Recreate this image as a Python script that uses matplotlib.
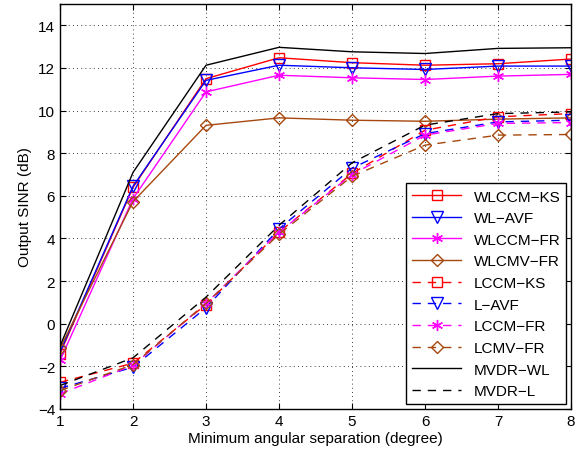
import matplotlib
matplotlib.use('Agg')
import matplotlib.pyplot as plt

plt.rcParams['font.family'] = ['Liberation Sans', 'DejaVu Sans']
plt.rcParams['font.size'] = 11

# minimum angular separation (degree)
sep = [1, 2, 3, 4, 5, 6, 7, 8]

# widely-linear methods (solid)
wlccm_ks = [-1.40, 6.40, 11.50, 12.48, 12.25, 12.13, 12.20, 12.42]
wl_avf = [-1.33, 6.45, 11.42, 12.13, 12.01, 11.93, 12.09, 12.09]
wlccm_fr = [-1.72, 5.87, 10.88, 11.66, 11.54, 11.46, 11.62, 11.70]
wlcmv_fr = [-1.15, 5.73, 9.31, 9.66, 9.55, 9.50, 9.60, 9.66]
mvdr_wl = [-1.05, 7.10, 12.13, 12.97, 12.76, 12.68, 12.92, 12.95]

# linear methods (dashed)
lccm_ks = [-2.75, -1.85, 0.90, 4.30, 7.05, 9.08, 9.71, 9.86]
l_avf = [-3.03, -2.04, 0.75, 4.45, 7.30, 8.92, 9.47, 9.55]
lccm_fr = [-3.29, -1.95, 0.95, 4.30, 7.00, 8.85, 9.40, 9.44]
lcmv_fr = [-3.14, -1.92, 0.95, 4.20, 6.92, 8.38, 8.85, 8.88]
mvdr_l = [-2.90, -1.60, 1.25, 4.62, 7.55, 9.32, 9.86, 9.94]

brown = (0.65, 0.28, 0.05)
ms = 7
dash = (0, (6, 5))
star = (6, 2, 0)  # asterisk like matlab '*'

fig = plt.figure(figsize=(5.85, 4.56), dpi=100)
ax = fig.add_axes([0.1026, 0.1009, 0.8735, 0.888])

ax.plot(sep, wlccm_ks, '-', color='red', marker='s', mfc='none', ms=ms, lw=1, label='WLCCM\u2212KS')
ax.plot(sep, wl_avf, '-', color='blue', marker='v', mfc='none', ms=ms + 1, lw=1, label='WL\u2212AVF')
ax.plot(sep, wlccm_fr, '-', color='magenta', marker=star, ms=ms + 1, lw=1, label='WLCCM\u2212FR')
ax.plot(sep, wlcmv_fr, '-', color=brown, marker='D', mfc='none', ms=ms - 0.5, lw=1, label='WLCMV\u2212FR')
ax.plot(sep, lccm_ks, ls=dash, color='red', marker='s', mfc='none', ms=ms, lw=1, label='LCCM\u2212KS')
ax.plot(sep, l_avf, ls=dash, color='blue', marker='v', mfc='none', ms=ms + 1, lw=1, label='L\u2212AVF')
ax.plot(sep, lccm_fr, ls=dash, color='magenta', marker=star, ms=ms + 1, lw=1, label='LCCM\u2212FR')
ax.plot(sep, lcmv_fr, ls=dash, color=brown, marker='D', mfc='none', ms=ms - 0.5, lw=1, label='LCMV\u2212FR')
ax.plot(sep, mvdr_wl, '-', color='black', lw=1, label='MVDR\u2212WL')
ax.plot(sep, mvdr_l, ls=dash, color='black', lw=1, label='MVDR\u2212L')

ax.set_xlim(1, 8)
ax.set_ylim(-4, 15)
ax.set_xticks(range(1, 9))
ax.set_yticks(range(-4, 15, 2))
ax.set_yticklabels([str(v).replace('-', '\u2212') for v in range(-4, 15, 2)])
ax.grid(True, color='black', linestyle=(0, (1, 4)), linewidth=0.6)
ax.tick_params(direction='in', top=True, right=True, length=4)
for s in ax.spines.values():
    s.set_linewidth(1)

ax.set_xlabel('Minimum angular separation (degree)', labelpad=2)
ax.set_ylabel('Output SINR (dB)', labelpad=4)

leg = ax.legend(loc='lower right', fontsize=11, fancybox=False, framealpha=1,
                edgecolor='black', handlelength=3.2, borderpad=0.4,
                labelspacing=0.5, borderaxespad=0.3)
leg.get_frame().set_linewidth(1)

fig.savefig('out.png', dpi=100)
